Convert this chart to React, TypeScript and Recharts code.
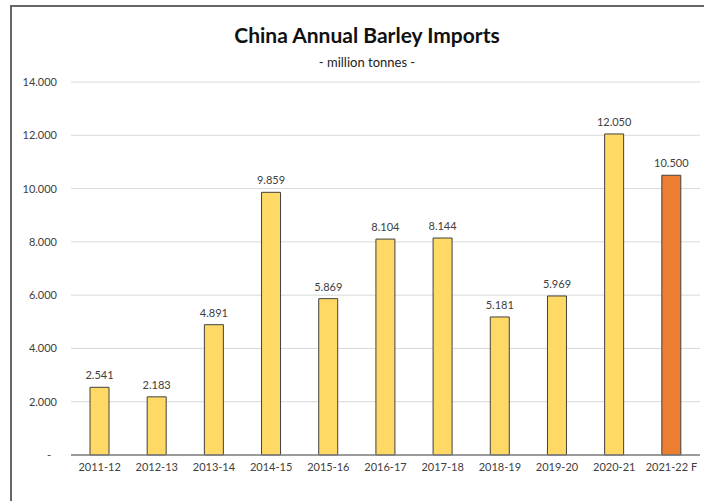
import React from "react";
import { BarChart, Bar, XAxis, YAxis, CartesianGrid, LabelList, Cell } from "recharts";

const categories = ["2011-12", "2012-13", "2013-14", "2014-15", "2015-16", "2016-17", "2017-18", "2018-19", "2019-20", "2020-21", "2021-22 F"];
const imports = [2.541, 2.183, 4.891, 9.859, 5.869, 8.104, 8.144, 5.181, 5.969, 12.05, 10.5];
const forecast = [false, false, false, false, false, false, false, false, false, false, true];
const yTicks = [0, 2, 4, 6, 8, 10, 12, 14];

const data = categories.map((c, i) => ({ name: c, value: imports[i], forecast: forecast[i] }));

const FONT = "Lato, 'Open Sans', sans-serif";
const fmt = (v: number) => (v === 0 ? "-" : v.toFixed(3));

const YTick = (props: any) => {
  const { x, y, payload } = props;
  const v = payload.value as number;
  return (
    <text x={v === 0 ? x - 6 : x} y={y} dy={4} textAnchor="end" fontSize={11} fill="#404040" fontFamily={FONT}>
      {fmt(v)}
    </text>
  );
};

export default function App() {
  return (
    <div style={{ position: "absolute", left: 0, top: 0, width: 704, height: 501, background: "#fff", fontFamily: FONT, overflow: "hidden" }}>
      <div style={{ position: "absolute", left: 10, top: 5, width: 720, height: 520, borderLeft: "2.5px solid #666", borderTop: "2.5px solid #666" }} />
      <div style={{ position: "absolute", left: 0, width: 734, top: 22, textAlign: "center", fontSize: 21, fontWeight: 700, color: "#111" }}>
        China Annual Barley Imports
      </div>
      <div style={{ position: "absolute", left: 0, width: 734, top: 54, textAlign: "center", fontSize: 13, color: "#222" }}>
        - million tonnes -
      </div>
      <div style={{ position: "absolute", left: 0, top: 0 }}>
        <BarChart width={704} height={501} data={data} margin={{ top: 82, right: 4, bottom: 16, left: 0 }} barCategoryGap={0}>
          <CartesianGrid vertical={false} stroke="#D9D9D9" />
          <XAxis
            dataKey="name"
            height={30}
            tickLine={false}
            axisLine={{ stroke: "#808080", strokeWidth: 1.5 }}
            tick={{ fontSize: 11, fill: "#404040", fontFamily: FONT }}
            interval={0}
          />
          <YAxis
            width={71}
            domain={[0, 14]}
            ticks={yTicks}
            tickLine={false}
            axisLine={false}
            tickMargin={8}
            tick={<YTick />}
            interval={0}
          />
          <Bar dataKey="value" barSize={19} stroke="#404040" strokeWidth={1} isAnimationActive={false}>
            {data.map((d, i) => (
              <Cell key={i} fill={d.forecast ? "#ED7D31" : "#FFD966"} />
            ))}
            <LabelList dataKey="value" position="top" offset={8} formatter={(v: any) => fmt(Number(v))} style={{ fontSize: 11, fill: "#404040", fontFamily: FONT }} />
          </Bar>
        </BarChart>
      </div>
    </div>
  );
}
